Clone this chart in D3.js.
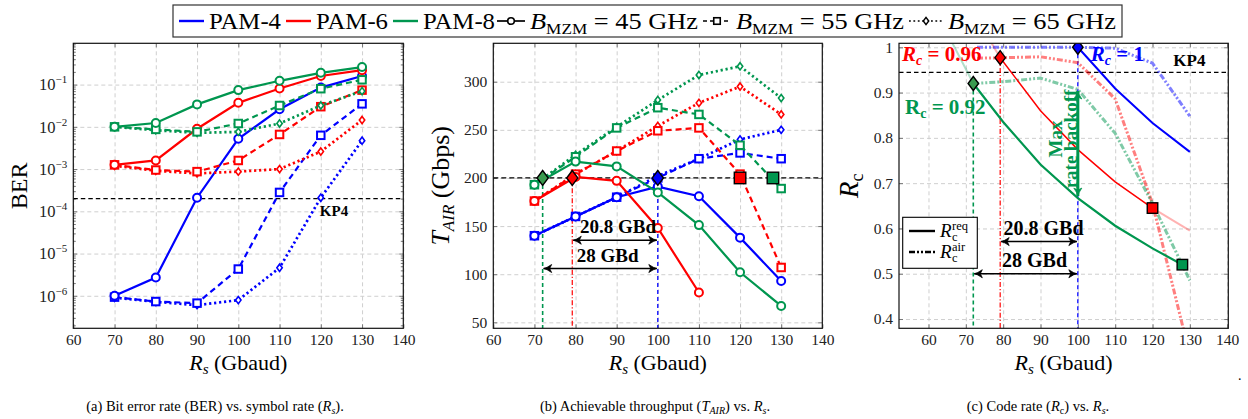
<!DOCTYPE html>
<html>
<head>
<meta charset="utf-8">
<script src="https://cdn.jsdelivr.net/npm/d3@7"></script>
<style>
body { margin: 0; background: #fff; }
text { font-family: "Liberation Serif", "Times New Roman", serif; fill: #000; }
.grid line { stroke: #c9c9c9; stroke-dasharray: 4,3; stroke-width: 0.9; }
.grid path, .ax path { display: none; }
.ax line { stroke: #777; stroke-width: 1; }
.ax text { font-family: "Liberation Serif", "Times New Roman", serif; font-size: 15.5px; fill: #222; }
</style>
</head>
<body>
<svg id="fig" width="1248" height="419"></svg>
<script>
// ---- data ----
var rs = [70, 80, 90, 100, 110, 120, 130];

// (a) BER
var ber4_45 = [1.0e-6, 2.7e-6, 2.1e-4, 5.2e-3, 2.6e-2, 8.5e-2, 0.16];
var ber4_55 = [9.3e-7, 7.3e-7, 6.7e-7, 4.3e-6, 2.8e-4, 6.3e-3, 3.5e-2];
var ber4_65 = [9.0e-7, 7.2e-7, 6.0e-7, 7.9e-7, 4.6e-6, 2.1e-4, 4.7e-3];
var ber6_45 = [1.26e-3, 1.6e-3, 9.0e-3, 3.7e-2, 8.1e-2, 0.16, 0.22];
var ber6_55 = [1.26e-3, 9.5e-4, 8.7e-4, 1.6e-3, 6.6e-3, 3.0e-2, 7.4e-2];
var ber6_65 = [1.2e-3, 9.1e-4, 7.9e-4, 8.7e-4, 1.0e-3, 2.6e-3, 1.45e-2];
var ber8_45 = [1.0e-2, 1.23e-2, 3.4e-2, 7.4e-2, 0.123, 0.19, 0.26];
var ber8_55 = [1.0e-2, 8.7e-3, 7.6e-3, 1.2e-2, 3.2e-2, 8.0e-2, 0.13];
var ber8_65 = [1.0e-2, 8.3e-3, 7.2e-3, 7.6e-3, 1.2e-2, 3.2e-2, 7.0e-2];
var berKP4 = 2.0e-4;

// (b) throughput T_AIR (Gbps)
var tp4_45 = [140, 160, 180, 191, 181, 138, 93];
var tp4_55 = [140, 160, 180, 200, 220, 226, 220];
var tp4_65 = [140, 160, 180, 202, 220, 240, 250];
var tp6_45 = [176, 201, 197, 148, 81, null, null];
var tp6_55 = [176, 204, 228, 249, 252, 204, 107];
var tp6_65 = [176, 204, 228, 254, 278, 295, 266];
var tp8_45 = [193, 217, 212, 185, 151, 102, 67];
var tp8_55 = [193, 222, 252, 273, 266, 234, 189];
var tp8_65 = [193, 224, 253, 281, 307, 316, 283];
var tpTarget = 200;
var rsMax = [72, 79.2, 100];      // PAM-8, PAM-6, PAM-4 (diamonds)
var rsMin = [120, 128];           // PAM-6, PAM-8 (squares)

// (c) code rate
var rcReq4X = [100, 110, 120, 130],            rcReq4 = [1.0, 0.909, 0.833, 0.769];
var rcReq6X = [79.2, 90, 100, 110, 120],       rcReq6 = [0.977, 0.86, 0.774, 0.703, 0.645];
var rcReq8X = [72, 80, 90, 100, 110, 120, 128], rcReq8 = [0.92, 0.835, 0.741, 0.667, 0.606, 0.556, 0.52];
var rcFade6aX = [70, 79.2],   rcFade6a = [1.105, 0.977];
var rcFade6bX = [120, 130],   rcFade6b = [0.645, 0.595];
var rcFade8X = [60, 70, 72],  rcFade8 = [1.111, 0.952, 0.92];
var rcAirX = [73, 80, 90, 100, 110, 120, 130];
var rcAir4 = [1.0, 1.0, 1.0, 1.0, 0.998, 0.965, 0.848];
var rcAir6 = [0.976, 0.977, 0.979, 0.966, 0.886, 0.655, 0.32];
var rcAir8X = [72, 80, 90, 100, 110, 120, 130];
var rcAir8 = [0.92, 0.924, 0.932, 0.907, 0.81, 0.655, 0.485];
var rcKP4 = 0.9446;
var rcMax = [0.92, 0.977, 1.0];   // at rsMax
var rcMin = [0.645, 0.52];        // at rsMin
var backoff = [0.667, 0.908];

var legendPam = ["PAM-4", "PAM-6", "PAM-8"];
var legendB = ["45", "55", "65"];

var blue = "#0000ff", red = "#ff0000", green = "#00964f";

var svg = d3.select("#fig");
var defs = svg.append("defs");

function arrowHead(id, color) {
    defs.append("marker").attr("id", id)
        .attr("viewBox", "-10 -6 12 12").attr("refX", 0).attr("refY", 0)
        .attr("markerWidth", 12).attr("markerHeight", 12)
        .attr("markerUnits", "userSpaceOnUse")
        .attr("orient", "auto-start-reverse")
        .append("path").attr("d", "M-8,-4 Q-3,-0.5 0,0 Q-3,0.5 -8,4 L-6,0 Z")
        .attr("fill", color).attr("stroke", color).attr("stroke-width", 0.8);
}
arrowHead("ahBlack", "#000");
arrowHead("ahGreen", green);

// ---- panel frames ----
var pa = {l: 73.3, r: 403.3, t: 43.3, b: 328.3};
var pb = {l: 493.3, r: 822.3, t: 43.3, b: 328.3};
var pc = {l: 899, r: 1228.3, t: 43.3, b: 328.3};

var xa = d3.scaleLinear().domain([60, 140]).range([pa.l, pa.r]);
var ya = d3.scaleLog().domain([1.7e-7, 0.95]).range([pa.b, pa.t]);
var xb = d3.scaleLinear().domain([60, 140]).range([pb.l, pb.r]);
var yb = d3.scaleLinear().domain([43.8, 339.9]).range([pb.b, pb.t]);
var xc = d3.scaleLinear().domain([52.1, 140.3]).range([pc.l, pc.r]);
var yc = d3.scaleLinear().domain([0.3795, 1.0088]).range([pc.b, pc.t]);

function axes(p, x, y, xTicks, yTicks, yFmt, id) {
    var w = p.r - p.l, h = p.b - p.t;
    svg.append("g").attr("class", "grid").attr("transform", `translate(0,${p.b})`)
        .call(d3.axisBottom(x).tickValues(xTicks).tickSize(-h).tickFormat(""));
    svg.append("g").attr("class", "grid").attr("transform", `translate(${p.l},0)`)
        .call(d3.axisLeft(y).tickValues(yTicks).tickSize(-w).tickFormat(""));
    svg.append("g").attr("class", "ax").attr("transform", `translate(0,${p.b})`)
        .call(d3.axisBottom(x).tickValues(xTicks).tickSize(-4).tickPadding(6).tickFormat(d3.format("d")));
    svg.append("g").attr("class", "ax").attr("transform", `translate(0,${p.t})`)
        .call(d3.axisTop(x).tickValues(xTicks).tickSize(-4).tickFormat(""));
    var yl = svg.append("g").attr("class", "ax").attr("transform", `translate(${p.l},0)`)
        .call(d3.axisLeft(y).tickValues(yTicks).tickSize(-4).tickPadding(6).tickFormat(yFmt));
    svg.append("g").attr("class", "ax").attr("transform", `translate(${p.r},0)`)
        .call(d3.axisRight(y).tickValues(yTicks).tickSize(-4).tickFormat(""));
    defs.append("clipPath").attr("id", id).append("rect")
        .attr("x", p.l).attr("y", p.t).attr("width", w).attr("height", h);
    return yl;
}

function frameRect(p) {
    svg.append("rect").attr("x", p.l).attr("y", p.t)
        .attr("width", p.r - p.l).attr("height", p.b - p.t)
        .attr("fill", "none").attr("stroke", "#111").attr("stroke-width", 1.2);
}

var dashes = {solid: null, dash: "6,4", dot: "2.2,2.8"};

function series(g, x, y, xs, vs, color, style, width) {
    var pts = xs.map((d, i) => [d, vs[i]]);
    var line = d3.line().defined(d => d[1] != null).x(d => x(d[0])).y(d => y(d[1]));
    g.append("path").datum(pts).attr("d", line)
        .attr("fill", "none").attr("stroke", color)
        .attr("stroke-width", width || (style == "dot" ? 2.7 : 2.2))
        .attr("stroke-dasharray", dashes[style]);
    return pts.filter(d => d[1] != null);
}

function marks(g, x, y, pts, shape, color, sz, fill, sw) {
    pts.forEach(function (d) {
        var cx = x(d[0]), cy = y(d[1]);
        var m;
        if (shape == "circle") {
            m = g.append("circle").attr("cx", cx).attr("cy", cy).attr("r", sz);
        } else if (shape == "square") {
            m = g.append("rect").attr("x", cx - sz / 2).attr("y", cy - sz / 2).attr("width", sz).attr("height", sz);
        } else {
            var hw = sz * 0.75;
            m = g.append("path").attr("d", `M${cx},${cy - sz}L${cx + hw},${cy}L${cx},${cy + sz}L${cx - hw},${cy}Z`);
        }
        m.attr("fill", fill || "#fff").attr("stroke", color).attr("stroke-width", sw || 2);
    });
}

// =============== (a) BER ===============
var decades = [1e-6, 1e-5, 1e-4, 1e-3, 1e-2, 1e-1];
var yaLab = axes(pa, xa, ya, d3.range(60, 141, 10), decades, () => "", "clipA");
yaLab.selectAll(".tick text").style("font-size", "16.5px").each(function (d) {
    var t = d3.select(this);
    t.append("tspan").text("10");
    t.append("tspan").attr("dy", -7).style("font-size", "11px").text("\u2212" + Math.round(-Math.log10(d)));
});
var minors = ya.ticks().filter(v => Math.abs(Math.log10(v) - Math.round(Math.log10(v))) > 1e-6);
svg.append("g").attr("class", "ax").attr("transform", `translate(${pa.l},0)`)
    .call(d3.axisLeft(ya).tickValues(minors).tickSize(-2.5).tickFormat(""));
svg.append("g").attr("class", "ax").attr("transform", `translate(${pa.r},0)`)
    .call(d3.axisRight(ya).tickValues(minors).tickSize(-2.5).tickFormat(""));

var ga = svg.append("g").attr("clip-path", "url(#clipA)");
ga.append("line").attr("x1", pa.l).attr("x2", pa.r).attr("y1", ya(berKP4)).attr("y2", ya(berKP4))
    .attr("stroke", "#000").attr("stroke-width", 1.2).attr("stroke-dasharray", "4.5,3");
var berSet = [
    [ber4_65, blue, "dot", "diamond"], [ber4_55, blue, "dash", "square"], [ber4_45, blue, "solid", "circle"],
    [ber6_65, red, "dot", "diamond"], [ber6_55, red, "dash", "square"], [ber6_45, red, "solid", "circle"],
    [ber8_65, green, "dot", "diamond"], [ber8_55, green, "dash", "square"], [ber8_45, green, "solid", "circle"]
];
berSet.forEach(function (s) {
    var pts = series(ga, xa, ya, rs, s[0], s[1], s[2]);
    if (s[3] == "circle") marks(ga, xa, ya, pts, "circle", s[1], 4, "#fff", 2);
    else if (s[3] == "square") marks(ga, xa, ya, pts, "square", s[1], 7.5, "#fff", 2);
    else marks(ga, xa, ya, pts, "diamond", s[1], 3.6, "#fff", 1.6);
});
svg.append("text").attr("x", xa(120) - 1).attr("y", ya(berKP4) + 17)
    .attr("font-weight", "bold").attr("font-size", 15).text("KP4");
frameRect(pa);
svg.append("text").attr("transform", `translate(27,${(pa.t + pa.b) / 2}) rotate(-90)`)
    .attr("text-anchor", "middle").attr("font-size", 24).text("BER");

// =============== (b) throughput ===============
axes(pb, xb, yb, d3.range(60, 141, 10), d3.range(50, 301, 50), d3.format("d"), "clipB");
var gb = svg.append("g").attr("clip-path", "url(#clipB)");
gb.append("line").attr("x1", pb.l).attr("x2", pb.r).attr("y1", yb(tpTarget)).attr("y2", yb(tpTarget))
    .attr("stroke", "#000").attr("stroke-width", 1.3).attr("stroke-dasharray", "5,3");
// guide lines at the max symbol rates
var vStyle = [[green, "4,3", 1.6], [red, "5,2,1.2,2", 1.2], [blue, "4,3", 1.3]];
rsMax.forEach(function (r, i) {
    gb.append("line").attr("x1", xb(r)).attr("x2", xb(r)).attr("y1", yb(tpTarget)).attr("y2", pb.b)
        .attr("stroke", vStyle[i][0]).attr("stroke-dasharray", vStyle[i][1]).attr("stroke-width", vStyle[i][2]);
});
// bandwidth arrows
var arrY = [135.3, 105.9];
var arrFrom = [rsMax[1], rsMax[0]];
var arrLab = ["20.8 GBd", "28 GBd"];
arrY.forEach(function (v, i) {
    gb.append("line").attr("x1", xb(arrFrom[i]) + 1).attr("x2", xb(rsMax[2]) - 1)
        .attr("y1", yb(v)).attr("y2", yb(v)).attr("stroke", "#000").attr("stroke-width", 1.4)
        .attr("marker-start", "url(#ahBlack)").attr("marker-end", "url(#ahBlack)");
});
svg.append("text").attr("x", xb(81.1)).attr("y", yb(arrY[0]) - 7).attr("font-weight", "bold").attr("font-size", 19).text(arrLab[0]);
svg.append("text").attr("x", xb(80.3)).attr("y", yb(arrY[1]) - 7).attr("font-weight", "bold").attr("font-size", 19).text(arrLab[1]);

var tpSet = [
    [tp4_65, blue, "dot", "diamond"], [tp4_55, blue, "dash", "square"], [tp4_45, blue, "solid", "circle"],
    [tp6_65, red, "dot", "diamond"], [tp6_55, red, "dash", "square"], [tp6_45, red, "solid", "circle"],
    [tp8_65, green, "dot", "diamond"], [tp8_55, green, "dash", "square"], [tp8_45, green, "solid", "circle"]
];
tpSet.forEach(function (s) {
    var pts = series(gb, xb, yb, rs, s[0], s[1], s[2]);
    if (s[3] == "circle") marks(gb, xb, yb, pts, "circle", s[1], 4, "#fff", 2);
    else if (s[3] == "square") marks(gb, xb, yb, pts, "square", s[1], 7.5, "#fff", 2);
    else marks(gb, xb, yb, pts, "diamond", s[1], 3.6, "#fff", 1.6);
});
var maxFill = ["#3a9a4f", red, blue];
rsMax.forEach(function (r, i) {
    marks(gb, xb, yb, [[r, tpTarget]], "diamond", "#000", 7.5, maxFill[i], 1.4);
});
var minFill = [red, green];
rsMin.forEach(function (r, i) {
    marks(gb, xb, yb, [[r, tpTarget]], "square", "#000", 11.5, minFill[i], 1.4);
});
frameRect(pb);
var tl = svg.append("text").attr("transform", `translate(449,${(pb.t + pb.b) / 2}) rotate(-90)`)
    .attr("text-anchor", "middle").attr("font-size", 26);
tl.append("tspan").attr("font-style", "italic").text("T");
tl.append("tspan").attr("font-style", "italic").attr("font-size", 17).attr("dy", 5).text("AIR");
tl.append("tspan").attr("dy", -5).text(" (Gbps)");

// =============== (c) code rate ===============
axes(pc, xc, yc, d3.range(60, 141, 10), d3.range(0.4, 1.001, 0.1),
    d => (Math.abs(d - 1) < 1e-9 ? "1" : d3.format(".1f")(d)), "clipC");
var gc = svg.append("g").attr("clip-path", "url(#clipC)");
gc.append("line").attr("x1", pc.l).attr("x2", pc.r).attr("y1", yc(rcKP4)).attr("y2", yc(rcKP4))
    .attr("stroke", "#000").attr("stroke-width", 1.2).attr("stroke-dasharray", "4.5,3");
rsMax.forEach(function (r, i) {
    gc.append("line").attr("x1", xc(r)).attr("x2", xc(r)).attr("y1", yc(rcMax[i])).attr("y2", pc.b)
        .attr("stroke", vStyle[i][0]).attr("stroke-dasharray", vStyle[i][1]).attr("stroke-width", vStyle[i][2]);
});
// faded required-rate extensions
var gFade = gc.append("g").attr("opacity", 0.3);
series(gFade, xc, yc, rcFade8X, rcFade8, green, "solid", 2);
series(gFade, xc, yc, rcFade6aX, rcFade6a, red, "solid", 2);
series(gFade, xc, yc, rcFade6bX, rcFade6b, red, "solid", 2);
// achievable code rates
var airDash = "6,2,2,2,2,2";
[[rcAirX, rcAir4, blue], [rcAirX, rcAir6, red], [rcAir8X, rcAir8, green]].forEach(function (s) {
    var pts = s[0].map((d, i) => [d, s[1][i]]);
    gc.append("path").datum(pts)
        .attr("d", d3.line().x(d => xc(d[0])).y(d => yc(d[1])))
        .attr("fill", "none").attr("stroke", s[2]).attr("stroke-width", 3)
        .attr("stroke-dasharray", airDash).attr("opacity", 0.5);
});
// required code rates
series(gc, xc, yc, rcReq4X, rcReq4, blue, "solid", 2);
series(gc, xc, yc, rcReq6X, rcReq6, red, "solid", 1.5);
series(gc, xc, yc, rcReq8X, rcReq8, green, "solid", 2.2);
// arrows
var arrYc = [0.571, 0.5];
arrYc.forEach(function (v, i) {
    gc.append("line").attr("x1", xc(arrFrom[i]) + 1).attr("x2", xc(rsMax[2]) - 1)
        .attr("y1", yc(v)).attr("y2", yc(v)).attr("stroke", "#000").attr("stroke-width", 1.4)
        .attr("marker-start", "url(#ahBlack)").attr("marker-end", "url(#ahBlack)");
});
svg.append("text").attr("x", xc(80.1)).attr("y", yc(arrYc[0]) - 7).attr("font-weight", "bold").attr("font-size", 20).text(arrLab[0]);
svg.append("text").attr("x", xc(79.7)).attr("y", yc(arrYc[1]) - 7).attr("font-weight", "bold").attr("font-size", 20).text(arrLab[1]);
gc.append("line").attr("x1", xc(rsMax[2])).attr("x2", xc(rsMax[2]))
    .attr("y1", yc(backoff[0]) - 2).attr("y2", yc(backoff[1]) + 2)
    .attr("stroke", green).attr("stroke-width", 3)
    .attr("marker-start", "url(#ahGreen)").attr("marker-end", "url(#ahGreen)");
svg.append("text").attr("transform", `translate(${xc(rsMax[2]) - 16},139) rotate(-90)`)
    .attr("text-anchor", "middle").attr("font-weight", "bold").attr("font-size", 19).style("fill", green).text("Max");
svg.append("text").attr("transform", `translate(${xc(rsMax[2]) - 1},139) rotate(-90)`)
    .attr("text-anchor", "middle").attr("font-weight", "bold").attr("font-size", 19).style("fill", green).text("rate backoff");
rsMax.forEach(function (r, i) {
    marks(gc, xc, yc, [[r, rcMax[i]]], "diamond", "#000", 7, maxFill[i], 1.4);
});
rsMin.forEach(function (r, i) {
    marks(gc, xc, yc, [[r, rcMin[i]]], "square", "#000", 10.5, minFill[i], 1.4);
});
// rate labels
function rcLabel(x, y, color, val, italic) {
    var t = svg.append("text").attr("x", x).attr("y", y).attr("font-weight", "bold").attr("font-size", 21).style("fill", color);
    t.append("tspan").attr("font-style", italic ? "italic" : null).text("R");
    t.append("tspan").attr("font-style", italic ? "italic" : null).attr("font-size", 14).attr("dy", 4).text("c");
    t.append("tspan").attr("dy", -4).text(" = " + val);
}
rcLabel(pc.l + 3, 61, red, "0.96", true);
rcLabel(xc(rsMax[2]) + 13, 61, blue, "1", true);
rcLabel(pc.l + 6, 114, green, "0.92", false);
svg.append("text").attr("x", pc.r - 55).attr("y", yc(rcKP4) - 6)
    .attr("font-weight", "bold").attr("font-size", 17).text("KP4");
// legend (c)
svg.append("rect").attr("x", 902.7).attr("y", 217.3).attr("width", 74.6).attr("height", 51)
    .attr("fill", "#fff").attr("stroke", "#000").attr("stroke-width", 1.1);
var lgRows = [["req", null], ["air", airDash]];
lgRows.forEach(function (r, i) {
    var yy = 231 + i * 21;
    svg.append("line").attr("x1", 909).attr("x2", 935).attr("y1", yy).attr("y2", yy)
        .attr("stroke", "#000").attr("stroke-width", 2.4).attr("stroke-dasharray", r[1]);
    var t = svg.append("text").attr("x", 940).attr("y", yy + 6).attr("font-size", 19);
    t.append("tspan").attr("font-style", "italic").text("R");
    t.append("tspan").attr("x", 952).attr("dy", -7).attr("font-size", 12.5).text(r[0]);
    t.append("tspan").attr("x", 952).attr("dy", 11).attr("font-size", 12.5).text("c");
});
frameRect(pc);
var rcl = svg.append("text").attr("transform", `translate(858,${(pc.t + pc.b) / 2}) rotate(-90)`)
    .attr("text-anchor", "middle").attr("font-size", 27);
rcl.append("tspan").attr("font-style", "italic").text("R");
rcl.append("tspan").attr("font-size", 18).attr("dy", 5).text("c");

// ---- x labels and captions ----
[pa, pb, pc].forEach(function (p) {
    var t = svg.append("text").attr("x", (p.l + p.r) / 2).attr("y", 370)
        .attr("text-anchor", "middle").attr("font-size", 22);
    t.append("tspan").attr("font-style", "italic").text("R");
    t.append("tspan").attr("font-style", "italic").attr("font-size", 15).attr("dy", 4).text("s");
    t.append("tspan").attr("dy", -4).text(" (Gbaud)");
});
function caption(x, parts) {
    var t = svg.append("text").attr("x", x).attr("y", 411).attr("text-anchor", "middle").attr("font-size", 14.5);
    parts.forEach(function (p) {
        var s = t.append("tspan").text(p[0]);
        if (p[1] == "i") s.attr("font-style", "italic");
        if (p[1] == "sub") s.attr("font-style", "italic").attr("font-size", 10).attr("dy", 3);
        if (p[1] == "up") s.attr("font-size", 10).attr("dy", 3);
        if (p[2]) s.attr("dy", -3);
    });
}
caption(215, [["(a) Bit error rate (BER) vs. symbol rate ("], ["R", "i"], ["s", "sub"], [").", null, 1]]);
caption(655, [["(b) Achievable throughput ("], ["T", "i"], ["AIR", "sub"], [") vs. ", null, 1], ["R", "i"], ["s", "sub"], [".", null, 1]]);
caption(1038, [["(c) Code rate ("], ["R", "i"], ["c", "up"], [") vs. ", null, 1], ["R", "i"], ["s", "sub"], [".", null, 1]]);
svg.append("text").attr("x", 1238).attr("y", 380).attr("font-size", 14).text(".");

// ---- top legend ----
svg.append("rect").attr("x", 173).attr("y", 5).attr("width", 949).attr("height", 32)
    .attr("fill", "#fff").attr("stroke", "#333").attr("stroke-width", 1.2);
var lx = 179, ly = 21;
[blue, red, green].forEach(function (c, i) {
    svg.append("line").attr("x1", lx).attr("x2", lx + 25).attr("y1", ly).attr("y2", ly)
        .attr("stroke", c).attr("stroke-width", 2.4);
    svg.append("text").attr("x", lx + 30).attr("y", ly + 8).attr("font-size", 23)
        .attr("textLength", 72).attr("lengthAdjust", "spacingAndGlyphs").text(legendPam[i]);
    lx += 107;
});
var bSamples = [["circle", "solid", 28], ["square", "dash", 28], ["diamond", "dot", 34]];
lx = 497;
var lg = svg.append("g");
bSamples.forEach(function (b, i) {
    lg.append("line").attr("x1", lx).attr("x2", lx + b[2]).attr("y1", ly).attr("y2", ly)
        .attr("stroke", "#000").attr("stroke-width", 1.7)
        .attr("stroke-dasharray", b[1] == "dash" ? "4,3" : b[1] == "dot" ? "1.8,2.6" : null);
    var sx = d3.scaleLinear().domain([0, 1]).range([lx, lx + b[2]]);
    var sy = d3.scaleLinear().domain([0, 1]).range([ly, ly]);
    if (b[0] == "circle") marks(lg, sx, sy, [[0.5, 0]], "circle", "#000", 3.3, "#fff", 1.6);
    else if (b[0] == "square") marks(lg, sx, sy, [[0.5, 0]], "square", "#000", 6.5, "#fff", 1.6);
    else marks(lg, sx, sy, [[0.5, 0]], "diamond", "#000", 3.6, "#fff", 1.5);
    var t = svg.append("text").attr("x", lx + b[2] + 5).attr("y", ly + 8).attr("font-size", 23)
        .attr("textLength", 168).attr("lengthAdjust", "spacingAndGlyphs");
    t.append("tspan").attr("font-style", "italic").text("B");
    t.append("tspan").attr("font-size", 15).attr("dy", 5).text("MZM");
    t.append("tspan").attr("dy", -5).text(" = " + legendB[i] + " GHz");
    lx += b[2] + 5 + 168 + 5;
});
</script>
</body>
</html>
